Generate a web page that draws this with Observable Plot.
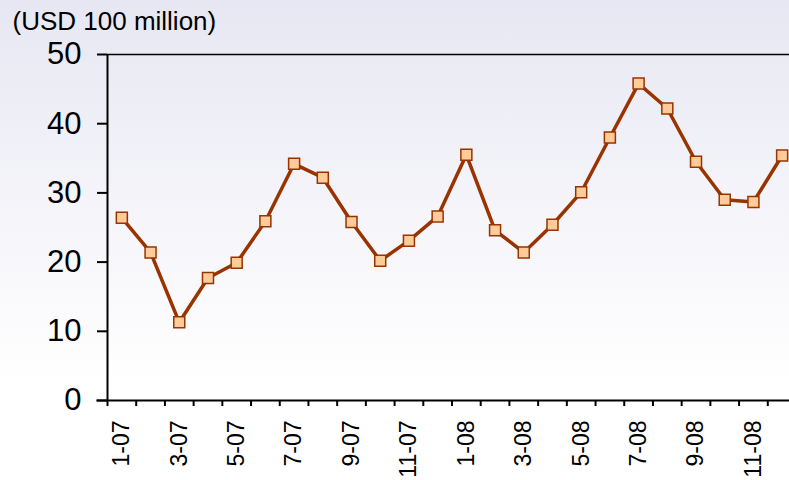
<!DOCTYPE html>
<html><head><meta charset="utf-8">
<script src="https://cdn.jsdelivr.net/npm/d3@7"></script>
<script src="https://cdn.jsdelivr.net/npm/@observablehq/plot@0.6"></script>
<style>
html,body{margin:0;padding:0;}
body{width:789px;height:480px;overflow:hidden;background:linear-gradient(to bottom,#e7e7f3 0%,#f5f5fa 45%,#ffffff 80%,#ffffff 100%);}
</style></head><body><div id="chart"></div>
<script>
const months = ["1-07","2-07","3-07","4-07","5-07","6-07","7-07","8-07","9-07","10-07","11-07","12-07",
                "1-08","2-08","3-08","4-08","5-08","6-08","7-08","8-08","9-08","10-08","11-08","12-08"];
const values = [26.4,21.4,11.3,17.7,19.9,25.9,34.2,32.2,25.8,20.2,23.1,26.6,
                35.5,24.6,21.4,25.4,30.1,38.0,45.8,42.2,34.5,29.0,28.7,35.4];
const yTicks = [0,10,20,30,40,50];
const unitLabel = "(USD 100 million)";

const data = months.map((m,i)=>({i, m, v: values[i]}));
const boundaries = d3.range(months.length + 1);
const labelPositions = d3.range(0, months.length, 2).map(i => i + 0.5);
const font = "'Liberation Sans', Arial, Helvetica, sans-serif";

const chart = Plot.plot({
  width: 789, height: 480,
  marginTop: 54, marginBottom: 80, marginLeft: 107, marginRight: 0,
  style: {background: "transparent", fontFamily: font, overflow: "visible"},
  x: {domain: [0, months.length], range: [107, 796]},
  y: {domain: [0, 50], range: [400, 54]},
  marks: [
    Plot.ruleY([50], {stroke: "black", strokeWidth: 1.5}),
    Plot.axisY(yTicks, {tickSize: 10, tickPadding: 16, fontSize: 31, strokeWidth: 2, label: null}),
    Plot.axisX(boundaries, {tickSize: 6, strokeWidth: 2, tickFormat: () => "", label: null}),
    Plot.axisX(labelPositions, {tickSize: 0, tickPadding: 20, tickRotate: -90, fontSize: 23,
      tickFormat: d => months[Math.floor(d)], label: null}),
    Plot.ruleX([0], {stroke: "black", strokeWidth: 2}),
    Plot.ruleY([0], {stroke: "black", strokeWidth: 2, x1: -0.37, x2: months.length}),
    Plot.line(data, {x: d => d.i + 0.5, y: "v", stroke: "#993300", strokeWidth: 3.5}),
    Plot.dot(data, {x: d => d.i + 0.5, y: "v", symbol: "square", r: 6.2, fill: "#ffcc99", stroke: "#993300", strokeWidth: 1.5}),
    Plot.text([unitLabel], {frameAnchor: "top-left", dx: -95, dy: -43, textAnchor: "start", lineAnchor: "top", fontSize: 26, fill: "black"})
  ]
});
document.getElementById("chart").appendChild(chart);
</script>
</body></html>
